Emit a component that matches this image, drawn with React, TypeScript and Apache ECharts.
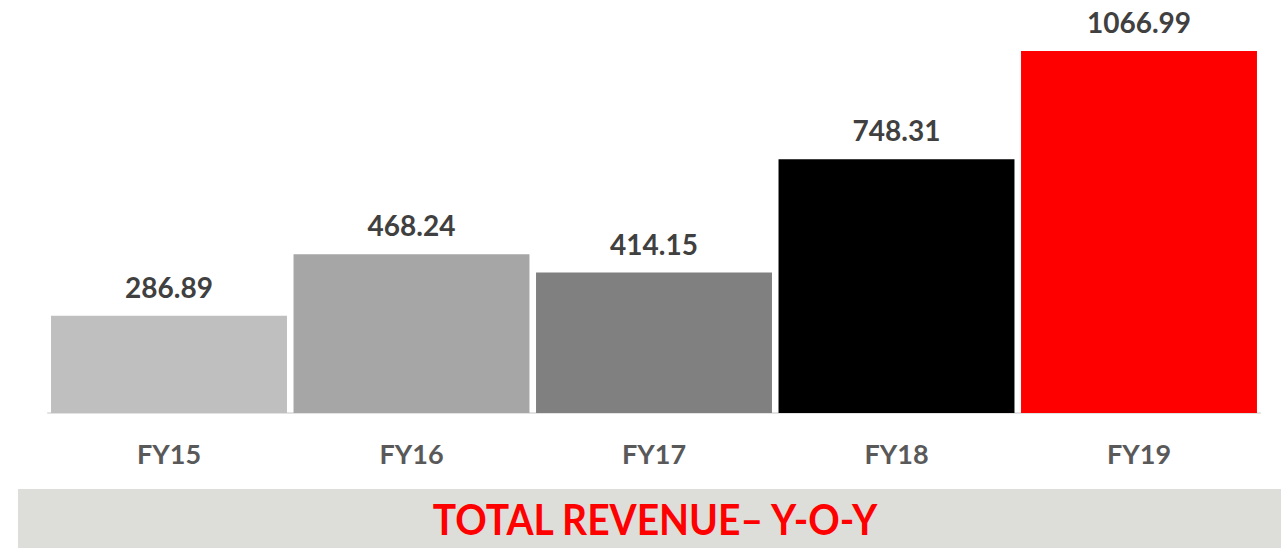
import React, { useEffect, useRef } from "react";
import * as echarts from "echarts";

const categories = ["FY15", "FY16", "FY17", "FY18", "FY19"];
const revenue = [286.89, 468.24, 414.15, 748.31, 1066.99];
const barColors = ["#BFBFBF", "#A6A6A6", "#808080", "#000000", "#FF0000"];
const titleText = "TOTAL REVENUE\u2013 Y-O-Y";

export default function App() {
  const ref = useRef<HTMLDivElement>(null);
  useEffect(() => {
    document.body.style.margin = "0";
    const chart = echarts.init(ref.current!, null, { renderer: "svg" });
    chart.setOption({
      animation: false,
      grid: { left: 47.75, right: 20.75, top: 6, bottom: 135 },
      xAxis: {
        type: "category",
        data: categories,
        axisLine: { show: true, lineStyle: { color: "#D9D9D9", width: 1.5 } },
        axisTick: { show: false },
        axisLabel: {
          color: "#595959",
          fontFamily: "Lato",
          fontWeight: "bold",
          fontSize: 27,
          margin: 27,
        },
      },
      yAxis: {
        type: "value",
        min: 0,
        max: 1200,
        show: false,
        splitLine: { show: false },
      },
      series: [
        {
          type: "bar",
          data: revenue.map((v, i) => ({ value: v, itemStyle: { color: barColors[i] } })),
          barCategoryGap: "2.7%",
          label: {
            show: true,
            position: "top",
            distance: 15,
            color: "#404040",
            fontFamily: "Lato",
            fontWeight: "bold",
            fontSize: 28,
            formatter: (p: any) => p.value.toFixed(2),
          },
        },
      ],
      graphic: [
        {
          type: "rect",
          shape: { x: 18, y: 489, width: 1263, height: 59 },
          style: { fill: "#DDDDD9" },
          silent: true,
        },
        {
          type: "text",
          x: 655,
          y: 519,
          scaleY: 1.1,
          style: {
            text: titleText,
            fill: "#FF0000",
            font: "bold 39px Lato",
            align: "center",
            verticalAlign: "middle",
          },
        },
      ],
    });
    return () => chart.dispose();
  }, []);
  return <div ref={ref} style={{ width: 1281, height: 548 }} />;
}
